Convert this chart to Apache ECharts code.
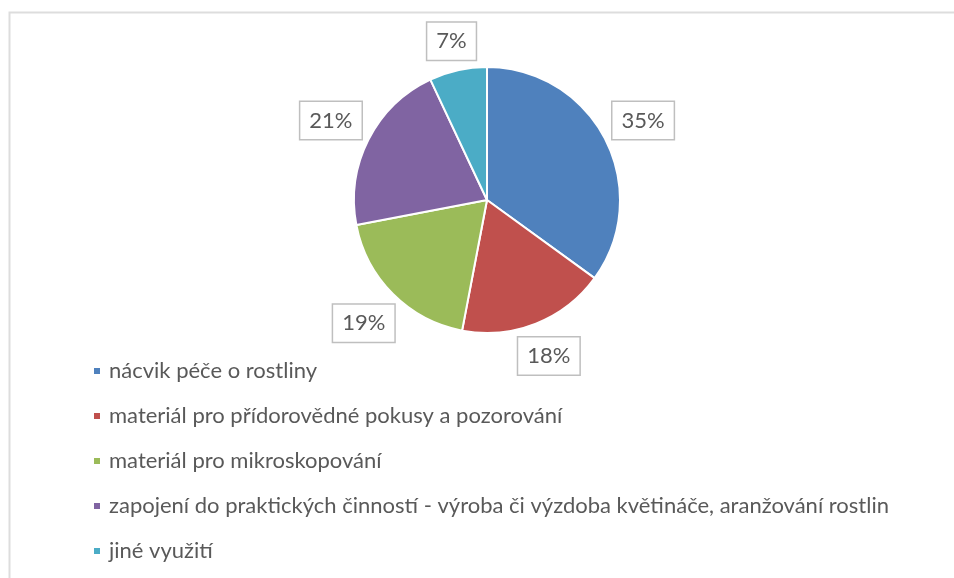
<!DOCTYPE html>
<html>
<head>
<meta charset="utf-8">
<script src="https://cdn.jsdelivr.net/npm/echarts@6/dist/echarts.min.js"></script>
<style>html,body{margin:0;padding:0;background:#fff;}#c{width:954px;height:578px;}</style>
</head>
<body>
<div id="c"></div>
<script>
const categories = [
  'nácvik péče o rostliny',
  'materiál pro přídorovědné pokusy a pozorování',
  'materiál pro mikroskopování',
  'zapojení do praktických činností - výroba či výzdoba květináče, aranžování rostlin',
  'jiné využití'
];
const values = [35, 18, 19, 21, 7];
const colors = ['#4F81BD', '#C0504D', '#9BBB59', '#8064A2', '#4BACC6'];

const FONT = 'Lato';
const CX = 487, CY = 200, R = 133, GAP = 4.5;
const pieData = categories.map((n, i) => ({ name: n, value: values[i], itemStyle: { color: colors[i] } }));
const labelData = categories.map((n, i) => ({ name: n, value: values[i] }));

const chart = echarts.init(document.getElementById('c'), null, { renderer: 'canvas' });
chart.setOption({
  animation: false,
  backgroundColor: '#fff',
  graphic: [{
    type: 'rect', left: 7, top: 10, silent: true,
    shape: { width: 1000, height: 1000 },
    style: { fill: 'none', stroke: '#DDDDDD', lineWidth: 2 }
  }],
  legend: {
    orient: 'vertical',
    left: 92, top: 359,
    padding: 0,
    itemWidth: 8, itemHeight: 8, itemGap: 21,
    icon: 'rect',
    data: categories,
    textStyle: { fontFamily: FONT, fontSize: 22, lineHeight: 24, color: '#595959', padding: [0, 0, 0, 3] }
  },
  series: [
    {
      type: 'pie',
      center: [CX, CY],
      radius: R,
      startAngle: 90,
      clockwise: true,
      silent: true,
      data: pieData,
      itemStyle: { borderColor: '#fff', borderWidth: 2 },
      label: { show: false },
      labelLine: { show: false }
    },
    {
      type: 'pie',
      center: [CX, CY],
      radius: [153, 189],
      startAngle: 90,
      clockwise: true,
      silent: true,
      data: labelData,
      itemStyle: { color: 'rgba(0,0,0,0)' },
      label: {
        show: true,
        position: 'inside',
        formatter: '{d}%',
        fontFamily: FONT,
        fontSize: 22,
        color: '#595959',
        backgroundColor: '#fff',
        borderColor: '#BFBFBF',
        borderWidth: 1.5,
        padding: [8, 9, 7, 9]
      },
      labelLine: { show: false },
      labelLayout: function (p) {
        const lr = p.labelRect;
        const mx = lr.x + lr.width / 2, my = lr.y + lr.height / 2;
        const dx = mx - CX, dy = my - CY;
        const len = Math.sqrt(dx * dx + dy * dy) || 1;
        const ux = dx / len, uy = dy / len;
        const d = R + GAP + Math.abs(ux) * lr.width / 2 + Math.abs(uy) * lr.height / 2;
        return { x: CX + ux * d, y: CY + uy * d, align: 'center', verticalAlign: 'middle' };
      }
    }
  ]
});
</script>
</body>
</html>
